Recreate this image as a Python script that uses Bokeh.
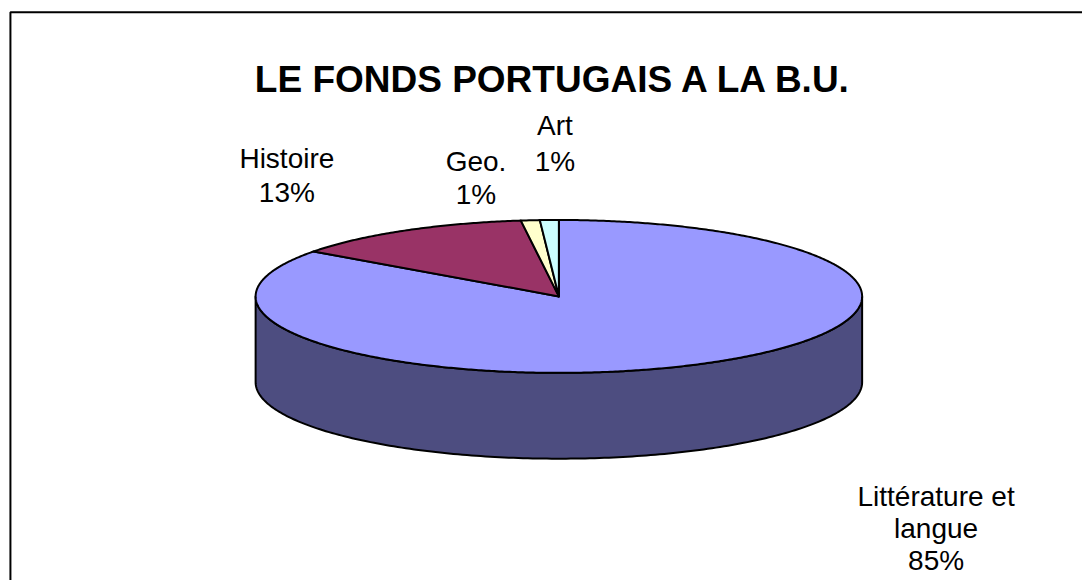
import numpy as np
from bokeh.plotting import figure
from bokeh.models import Range1d
from bokeh.core.properties import value
from bokeh.embed import file_html
from bokeh.resources import INLINE

# ---- data ----
categories = ["Littérature et langue", "Histoire", "Geo.", "Art"]
values = [85, 13, 1, 1]
title_text = "LE FONDS PORTUGAIS A LA B.U."

# ---- style / layout ----
top_colors = ["#9999FF", "#993366", "#FFFFCC", "#CCFFFF"]
side_colors = ["#4D4D80", "#4D1A33", "#80806A", "#6A8080"]
label_wrap = {"Littérature et langue": ["Littérature et", "langue"]}
# label anchor: centre x, first baseline y, line spacing
label_pos = [(942.5, 503, 32.5), (288.5, 160, 35), (479, 163, 33.5), (558.5, 127, 36)]
FONT = "Liberation Sans"

W, H = 1082, 580
p = figure(width=W, height=H, x_range=Range1d(0, 1090), y_range=Range1d(588, 0),
           output_backend="svg", toolbar_location=None,
           x_axis_location=None, y_axis_location=None, min_border=0)
p.outline_line_color = None
p.grid.visible = False
p.background_fill_color = "white"
p.border_fill_color = "white"

# chart border (left and top visible; right/bottom beyond the window)
p.line([10, 10, 1200], [700, 12, 12], line_color="black", line_width=2)

cx, cy, rx, ry, depth = 562.5, 300.0, 305.5, 77.5, 87.0

total = float(sum(values))
start = 90.0
slices = []
for v in values:
    sweep = v / total * 360.0
    slices.append((start - sweep, start))
    start -= sweep

def pt(theta_deg, dy=0.0):
    t = np.radians(theta_deg)
    return cx + rx * np.cos(t), cy - ry * np.sin(t) + dy

# side walls (front half: sin < 0)
side_xs, side_ys, side_cols = [], [], []
for (a, b), col in zip(slices, side_colors):
    for k in range(-2, 2):
        lo, hi = 180 + 360 * k, 360 + 360 * k
        s, e = max(a, lo), min(b, hi)
        if e > s:
            th = np.linspace(s, e, 200)
            xt, yt = pt(th)
            xb, yb = pt(th[::-1], depth)
            side_xs.append(list(xt) + list(xb))
            side_ys.append(list(yt) + list(yb))
            side_cols.append(col)
p.patches(side_xs, side_ys, fill_color=side_cols, line_color="black",
          line_width=2, line_join="round")

# top faces
top_xs, top_ys = [], []
for (a, b) in slices:
    n = max(int((b - a) * 2), 8)
    th = np.linspace(b, a, n)
    xt, yt = pt(th)
    top_xs.append([cx] + list(xt))
    top_ys.append([cy] + list(yt))
p.patches(top_xs, top_ys, fill_color=top_colors, line_color="black",
          line_width=2, line_join="round")

# labels
tx, ty, tt = [], [], []
for cat, v, (lx, ly, sp) in zip(categories, values, label_pos):
    lines = label_wrap.get(cat, [cat]) + [f"{round(v / total * 100)}%"]
    for i, ln in enumerate(lines):
        tx.append(lx)
        ty.append(ly + i * sp)
        tt.append(ln)
p.text(tx, ty, text=tt, text_font=value(FONT), text_font_size="28px",
       text_align="center", text_baseline="alphabetic", text_color="black")

# title
p.text([557.5], [80], text=[title_text], text_font=value(FONT),
       text_font_size="37px", text_font_style="bold",
       text_align="center", text_baseline="alphabetic", text_color="black")

open("out.html", "w").write(file_html(p, INLINE))
